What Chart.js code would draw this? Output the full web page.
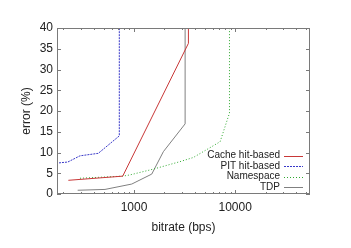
<!DOCTYPE html>
<html>
<head>
<meta charset="utf-8">
<script src="https://cdn.jsdelivr.net/npm/chart.js@4"></script>
<style>
html, body { margin: 0; padding: 0; background: #fff; }
</style>
</head>
<body>
<canvas id="myChart" width="351" height="248"></canvas>
<script>
// series names (legend order)
var seriesNames = ["Cache hit-based", "PIT hit-based", "Namespace", "TDP"];

// values: bitrate (bps) / error (%)
var cacheX = [224, 773, 3450, 3450];
var cacheY = [3.3, 4.3, 36.3, 40];
var pitX = [181, 221, 292, 443, 715, 715];
var pitY = [7.5, 7.7, 9.2, 9.8, 14.0, 40];
var nsX = [292, 773, 912, 1554, 2850, 3860, 7100, 8790, 8790];
var nsY = [3.8, 4.3, 4.6, 6.0, 7.8, 8.8, 12.6, 19.5, 40];
var tdpX = [277, 516, 950, 1497, 1950, 3200, 3200];
var tdpY = [0.9, 1.1, 2.4, 4.8, 10.2, 16.9, 40];

// tick labels
var xTicks = [1000, 10000];
var yTicks = [0, 5, 10, 15, 20, 25, 30, 35, 40];
var yTitle = 'error (%)';

function points(xs, ys) {
  return xs.map(function(x, i) { return {x: x, y: ys[i]}; });
}

var FONT = "'Liberation Sans', Arial, sans-serif";
var frameColor = '#7a7a7a';

// gnuplot style frame with inward ticks on all four sides
var framePlugin = {
  id: 'frame',
  afterDraw: function(chart) {
    var ctx = chart.ctx, a = chart.chartArea;
    var xs = chart.scales.x, ys = chart.scales.y;
    ctx.save();
    ctx.strokeStyle = frameColor;
    ctx.lineWidth = 1;
    ctx.strokeRect(a.left + 0.5, a.top + 0.5, a.right - a.left - 1, a.bottom - a.top - 1);
    ctx.beginPath();
    for (var d = 100; d <= 100000; d *= 10) {
      for (var k = 1; k < 10; k++) {
        var v = k * d;
        if (v < xs.min || v > xs.max) continue;
        var px = Math.round(xs.getPixelForValue(v)) + 0.5;
        var len = k == 1 ? 4 : 2;
        ctx.moveTo(px, a.bottom); ctx.lineTo(px, a.bottom - len);
        ctx.moveTo(px, a.top); ctx.lineTo(px, a.top + len);
      }
    }
    yTicks.forEach(function(v) {
      var py = Math.round(ys.getPixelForValue(v)) + 0.5;
      ctx.moveTo(a.left, py); ctx.lineTo(a.left + 4, py);
      ctx.moveTo(a.right, py); ctx.lineTo(a.right - 4, py);
    });
    ctx.stroke();

    // y axis title
    ctx.save();
    ctx.fillStyle = '#222';
    ctx.font = "12px " + FONT;
    ctx.textAlign = 'center';
    ctx.textBaseline = 'middle';
    ctx.translate(a.left - 30, (a.top + a.bottom) / 2);
    ctx.rotate(-Math.PI / 2);
    ctx.fillText(yTitle, 0, 0);
    ctx.restore();

    // key, text right aligned with the line sample on the right
    ctx.font = "10px " + FONT;
    ctx.textAlign = 'right';
    ctx.textBaseline = 'middle';
    chart.data.datasets.forEach(function(ds, i) {
      var y = a.bottom - 38.5 + i * 10.6;
      ctx.fillStyle = '#222';
      ctx.fillText(ds.label, a.right - 30, y);
      ctx.beginPath();
      ctx.strokeStyle = ds.borderColor;
      ctx.setLineDash(ds.borderDash || []);
      ctx.moveTo(a.right - 26, Math.round(y) + 0.5);
      ctx.lineTo(a.right - 7, Math.round(y) + 0.5);
      ctx.stroke();
    });
    ctx.restore();
  }
};

var ctx = document.getElementById('myChart').getContext('2d');
var chart = new Chart(ctx, {
  type: 'line',
  data: {
    datasets: [{
      label: seriesNames[0],
      data: points(cacheX, cacheY),
      borderColor: '#c83737',
      borderWidth: 1
    }, {
      label: seriesNames[1],
      data: points(pitX, pitY),
      borderColor: '#3838c8',
      borderWidth: 1,
      borderDash: [2, 1]
    }, {
      label: seriesNames[2],
      data: points(nsX, nsY),
      borderColor: '#2ea82e',
      borderWidth: 1,
      borderDash: [1, 2]
    }, {
      label: seriesNames[3],
      data: points(tdpX, tdpY),
      borderColor: '#808080',
      borderWidth: 1
    }]
  },
  options: {
    responsive: false,
    devicePixelRatio: 1,
    animation: false,
    layout: { padding: { top: 28, right: 41, left: 0, bottom: 0 } },
    elements: { point: { radius: 0 }, line: { tension: 0, fill: false } },
    plugins: { legend: { display: false }, tooltip: { enabled: false } },
    scales: {
      x: {
        type: 'logarithmic',
        min: 173,
        max: 55000,
        afterBuildTicks: function(s) { s.ticks = xTicks.map(function(v) { return {value: v}; }); },
        afterFit: function(s) { s.height = 54; },
        grid: { display: false, drawTicks: false },
        border: { display: false },
        ticks: {
          autoSkip: false, maxRotation: 0, padding: 6, color: '#222',
          font: { family: FONT, size: 12 },
          callback: function(v) { return String(v); }
        },
        title: {
          display: true, text: 'bitrate (bps)', color: '#222',
          font: { family: FONT, size: 12 }, padding: { top: 0, bottom: 13 }
        }
      },
      y: {
        type: 'linear',
        min: 0,
        max: 40,
        afterBuildTicks: function(s) { s.ticks = yTicks.map(function(v) { return {value: v}; }); },
        afterFit: function(s) { s.width = 57; },
        grid: { display: false, drawTicks: false },
        border: { display: false },
        ticks: {
          padding: 4, color: '#222',
          font: { family: FONT, size: 12 }
        }
      }
    }
  },
  plugins: [framePlugin]
});
</script>
</body>
</html>
